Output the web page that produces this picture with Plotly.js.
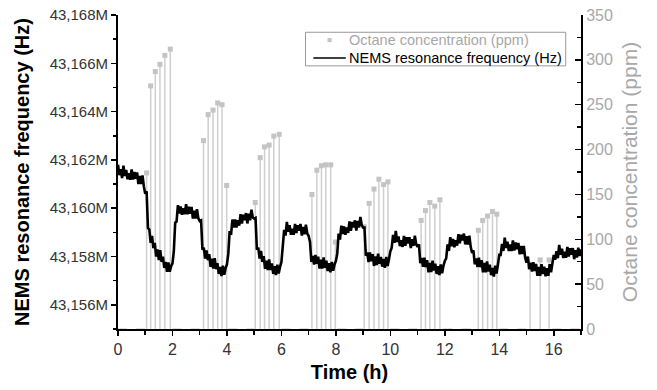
<!DOCTYPE html>
<html>
<head>
<meta charset="utf-8">
<script src="https://cdn.plot.ly/plotly-3.0.1.min.js"></script>
<style>html,body{margin:0;padding:0;background:#fff;}#chart{width:657px;height:390px;}</style>
</head>
<body>
<div id="chart"></div>
<script>
// NEMS resonance frequency (values in kHz, labelled "M" as in the source), one reading every 0.05 h from t = 0
var freqStart = 0;
var freqStep = 0.05;
var freqValues = [
  43161.80, 43161.37, 43161.62, 43161.25, 43161.76, 43161.34, 43161.59, 43161.20, 43161.45, 43161.18,
  43161.61, 43161.19, 43161.50, 43161.22, 43161.48, 43161.00, 43161.34, 43161.00, 43161.36, 43160.90,
  43160.60, 43160.70, 43159.18, 43159.12, 43158.57, 43158.85, 43158.35, 43158.57, 43158.00, 43158.30,
  43157.85, 43158.26, 43157.78, 43158.00, 43157.53, 43157.78, 43157.37, 43157.76, 43157.37, 43157.60,
  43157.72, 43158.22, 43159.40, 43159.45, 43160.13, 43159.78, 43160.07, 43159.73, 43160.00, 43159.75,
  43160.17, 43159.75, 43160.06, 43159.77, 43160.05, 43159.57, 43159.90, 43159.57, 43159.96, 43159.58,
  43159.47, 43159.50, 43158.28, 43158.37, 43157.92, 43158.25, 43157.85, 43158.10, 43157.57, 43157.91,
  43157.50, 43157.93, 43157.48, 43157.73, 43157.28, 43157.57, 43157.19, 43157.62, 43157.25, 43157.52,
  43157.67, 43158.12, 43159.05, 43158.90, 43159.53, 43159.20, 43159.53, 43159.20, 43159.50, 43159.28,
  43159.75, 43159.37, 43159.73, 43159.50, 43159.80, 43159.37, 43159.77, 43159.50, 43159.94, 43159.62,
  43159.57, 43159.60, 43158.28, 43158.37, 43157.92, 43158.23, 43157.78, 43158.02, 43157.49, 43157.83,
  43157.44, 43157.88, 43157.44, 43157.71, 43157.28, 43157.60, 43157.23, 43157.66, 43157.30, 43157.57,
  43157.77, 43158.42, 43159.10, 43158.87, 43159.43, 43159.03, 43159.30, 43158.90, 43159.15, 43158.90,
  43159.35, 43158.97, 43159.30, 43159.07, 43159.35, 43158.87, 43159.22, 43158.92, 43159.32, 43158.95,
  43158.85, 43158.60, 43157.78, 43158.02, 43157.67, 43158.07, 43157.70, 43158.00, 43157.50, 43157.87,
  43157.50, 43157.96, 43157.53, 43157.83, 43157.40, 43157.72, 43157.35, 43157.78, 43157.41, 43157.67,
  43157.82, 43158.12, 43158.95, 43158.70, 43159.28, 43158.93, 43159.25, 43158.90, 43159.20, 43158.98,
  43159.45, 43159.07, 43159.43, 43159.20, 43159.50, 43159.07, 43159.47, 43159.20, 43159.64, 43159.30,
  43159.20, 43159.20, 43158.03, 43158.17, 43157.77, 43158.17, 43157.80, 43158.10, 43157.61, 43158.00,
  43157.65, 43158.12, 43157.70, 43157.98, 43157.58, 43157.90, 43157.53, 43157.98, 43157.61, 43157.90,
  43158.22, 43158.37, 43158.90, 43158.57, 43159.06, 43158.60, 43158.83, 43158.43, 43158.67, 43158.40,
  43158.85, 43158.45, 43158.80, 43158.54, 43158.80, 43158.35, 43158.72, 43158.44, 43158.86, 43158.50,
  43158.40, 43158.50, 43157.73, 43157.94, 43157.57, 43157.95, 43157.56, 43157.85, 43157.35, 43157.73,
  43157.36, 43157.83, 43157.42, 43157.70, 43157.28, 43157.60, 43157.23, 43157.67, 43157.31, 43157.62,
  43157.82, 43157.92, 43158.50, 43158.23, 43158.80, 43158.43, 43158.73, 43158.38, 43158.67, 43158.45,
  43158.93, 43158.55, 43158.90, 43158.67, 43158.95, 43158.50, 43158.84, 43158.50, 43158.86, 43158.40,
  43158.15, 43158.25, 43157.68, 43157.92, 43157.57, 43157.95, 43157.56, 43157.85, 43157.35, 43157.73,
  43157.35, 43157.80, 43157.38, 43157.66, 43157.23, 43157.53, 43157.17, 43157.62, 43157.30, 43157.67,
  43158.07, 43158.07, 43158.52, 43158.23, 43158.78, 43158.36, 43158.61, 43158.23, 43158.50, 43158.23,
  43158.67, 43158.25, 43158.58, 43158.30, 43158.56, 43158.09, 43158.44, 43158.10, 43158.44, 43157.95,
  43157.75, 43158.00, 43157.48, 43157.74, 43157.38, 43157.77, 43157.40, 43157.70, 43157.20, 43157.57,
  43157.20, 43157.68, 43157.28, 43157.58, 43157.18, 43157.52, 43157.20, 43157.68, 43157.35, 43157.72,
  43158.07, 43157.87, 43158.22, 43157.93, 43158.48, 43158.08, 43158.33, 43157.94, 43158.20, 43157.95,
  43158.40, 43158.00, 43158.34, 43158.08, 43158.35, 43157.89, 43158.26, 43157.96, 43158.37, 43158.02,
  43158.30
];

// Octane concentration pulses (h, ppm)
var octaneTime = [1.05, 1.20, 1.37, 1.54, 1.72, 1.92,
                  3.14, 3.31, 3.49, 3.66, 3.82, 3.99,
                  5.04, 5.22, 5.38, 5.55, 5.72, 5.92,
                  7.12, 7.30, 7.47, 7.63, 7.81, 7.98,
                  9.04, 9.22, 9.40, 9.58, 9.75, 9.91,
                  11.13, 11.29, 11.45, 11.63, 11.82,
                  13.23, 13.39, 13.57, 13.75, 13.91,
                  15.13, 15.50, 15.83];
var octanePpm = [174, 271, 287, 295, 305, 312,
                 210, 239, 244, 252, 250, 160,
                 141, 191, 203, 205, 215, 217,
                 150, 177, 182, 183, 183, 97,
                 114, 140, 156, 167, 161, 164,
                 121, 132, 141, 137, 144,
                 110, 121, 126, 131, 128,
                 69, 77, 77];

// Periods with zero octane (h)
var octaneOffStart = [0, 2.0, 4.05, 6.0, 8.05, 10.0, 11.95, 14.0, 15.95];
var octaneOffEnd   = [1.0, 3.1, 5.0, 7.08, 9.0, 11.08, 13.18, 15.08, 17.0];

// Tick labels and legend texts
var freqTickVals = [43156, 43158, 43160, 43162, 43164, 43166, 43168];
var freqTickText = ["43,156M", "43,158M", "43,160M", "43,162M", "43,164M", "43,166M", "43,168M"];
var octaneName = "Octane concentration (ppm)";
var freqName = "NEMS resonance frequency (Hz)";

var baseX = [], baseY = [];
for (var i = 0; i < octaneOffStart.length; i++) {
  baseX.push(octaneOffStart[i], octaneOffEnd[i], null);
  baseY.push(0, 0, null);
}

var FONT = "Liberation Sans, Arial, sans-serif";
var GRAY = "#a8a8a8";

var traces = [
  {
    x: baseX, y: baseY, yaxis: "y", xaxis: "x", type: "scatter", mode: "lines",
    line: {color: "#bdbdbd", width: 1.2, dash: "dash"}, showlegend: false, hoverinfo: "skip"
  },
  {
    x: octaneTime, y: octanePpm, yaxis: "y", xaxis: "x", type: "scatter", mode: "markers",
    name: octaneName, showlegend: false,
    marker: {symbol: "square", size: 5, color: "#c4c4c4"},
    error_y: {type: "data", symmetric: false, array: octanePpm.map(function(){return 0;}),
              arrayminus: octanePpm, width: 0, thickness: 1.5, color: "#cfcfcf"}
  },
  {
    x0: freqStart, dx: freqStep, y: freqValues, yaxis: "y2", xaxis: "x", type: "scatter", mode: "lines",
    name: freqName, showlegend: false,
    line: {color: "#000", width: 2.6, simplify: false}
  }
];

// Legend box drawn in paper coordinates (plot-area fractions)
var LG = {x0: 0.405, x1: 0.967, y0: 0.838, y1: 0.945, row1: 0.920, row2: 0.863, sym0: 0.422, sym1: 0.492, text: 0.494};

var layout = {
  width: 657, height: 390,
  margin: {l: 118, r: 76, t: 15, b: 61},
  paper_bgcolor: "#fff", plot_bgcolor: "#fff",
  font: {family: FONT, color: "#000"},
  showlegend: false,
  shapes: [
    {type: "rect", xref: "paper", yref: "paper", x0: LG.x0, x1: LG.x1, y0: LG.y0, y1: LG.y1,
     line: {color: "#999", width: 1}, fillcolor: "#fff", layer: "above"},
    {type: "line", xref: "paper", yref: "paper", x0: LG.sym0, x1: LG.sym1, y0: LG.row2, y1: LG.row2,
     line: {color: "#000", width: 1.3}, layer: "above"},
    {type: "rect", xref: "paper", yref: "paper",
     x0: (LG.sym0 + LG.sym1) / 2 - 0.0045, x1: (LG.sym0 + LG.sym1) / 2 + 0.0045,
     y0: LG.row1 - 0.0065, y1: LG.row1 + 0.0065,
     line: {width: 0}, fillcolor: "#c4c4c4", layer: "above"}
  ],
  annotations: [
    {xref: "paper", yref: "paper", x: LG.text, y: LG.row1, xanchor: "left", yanchor: "middle",
     text: octaneName, showarrow: false, font: {family: FONT, size: 14.5, color: GRAY}},
    {xref: "paper", yref: "paper", x: LG.text, y: LG.row2, xanchor: "left", yanchor: "middle",
     text: freqName, showarrow: false, font: {family: FONT, size: 14.5, color: "#000"}}
  ],
  xaxis: {
    range: [0, 17], dtick: 2, tick0: 0,
    ticks: "outside", ticklen: 5, tickwidth: 1.5, tickcolor: "#000",
    minor: {dtick: 1, ticks: "outside", ticklen: 4, tickwidth: 1.5, tickcolor: "#000"},
    showline: true, linecolor: "#000", linewidth: 2,
    showgrid: false, zeroline: false,
    tickfont: {family: FONT, size: 16, color: "#333"},
    title: {text: "<b>Time (h)</b>", font: {family: FONT, size: 20, color: "#000"}, standoff: 8}
  },
  xaxis2: {
    overlaying: "x", side: "top", range: [0, 17], dtick: 2, tick0: 0,
    ticks: "inside", ticklen: 5, tickwidth: 1.5, tickcolor: "#000",
    minor: {dtick: 1, ticks: "inside", ticklen: 5, tickwidth: 1.5, tickcolor: "#000"},
    showline: true, linecolor: "#000", linewidth: 2,
    showticklabels: false, showgrid: false, zeroline: false
  },
  yaxis: {
    side: "right", range: [0, 350], dtick: 50, tick0: 0,
    ticks: "inside", ticklen: 6, tickwidth: 1.5, tickcolor: "#000",
    minor: {dtick: 25, ticks: "inside", ticklen: 4, tickwidth: 1.5, tickcolor: "#000"},
    showline: true, linecolor: "#000", linewidth: 2,
    showgrid: false, zeroline: false,
    tickfont: {family: FONT, size: 16, color: GRAY},
    title: {text: "Octane concentration (ppm)", font: {family: FONT, size: 21, color: GRAY}, standoff: 10}
  },
  yaxis2: {
    overlaying: "y", side: "left", range: [43155, 43168],
    tickmode: "array", tickvals: freqTickVals, ticktext: freqTickText,
    ticks: "outside", ticklen: 5, tickwidth: 1.5, tickcolor: "#000",
    minor: {dtick: 1, ticks: "outside", ticklen: 3, tickwidth: 1.5, tickcolor: "#000"},
    showline: true, linecolor: "#000", linewidth: 2,
    showgrid: false, zeroline: false,
    tickfont: {family: FONT, size: 15, color: "#333"},
    title: {text: "<b>NEMS resonance frequency (Hz)</b>", font: {family: FONT, size: 20, color: "#000"}, standoff: 15}
  }
};

Plotly.newPlot("chart", traces, layout, {displayModeBar: false, staticPlot: true});
</script>
</body>
</html>
